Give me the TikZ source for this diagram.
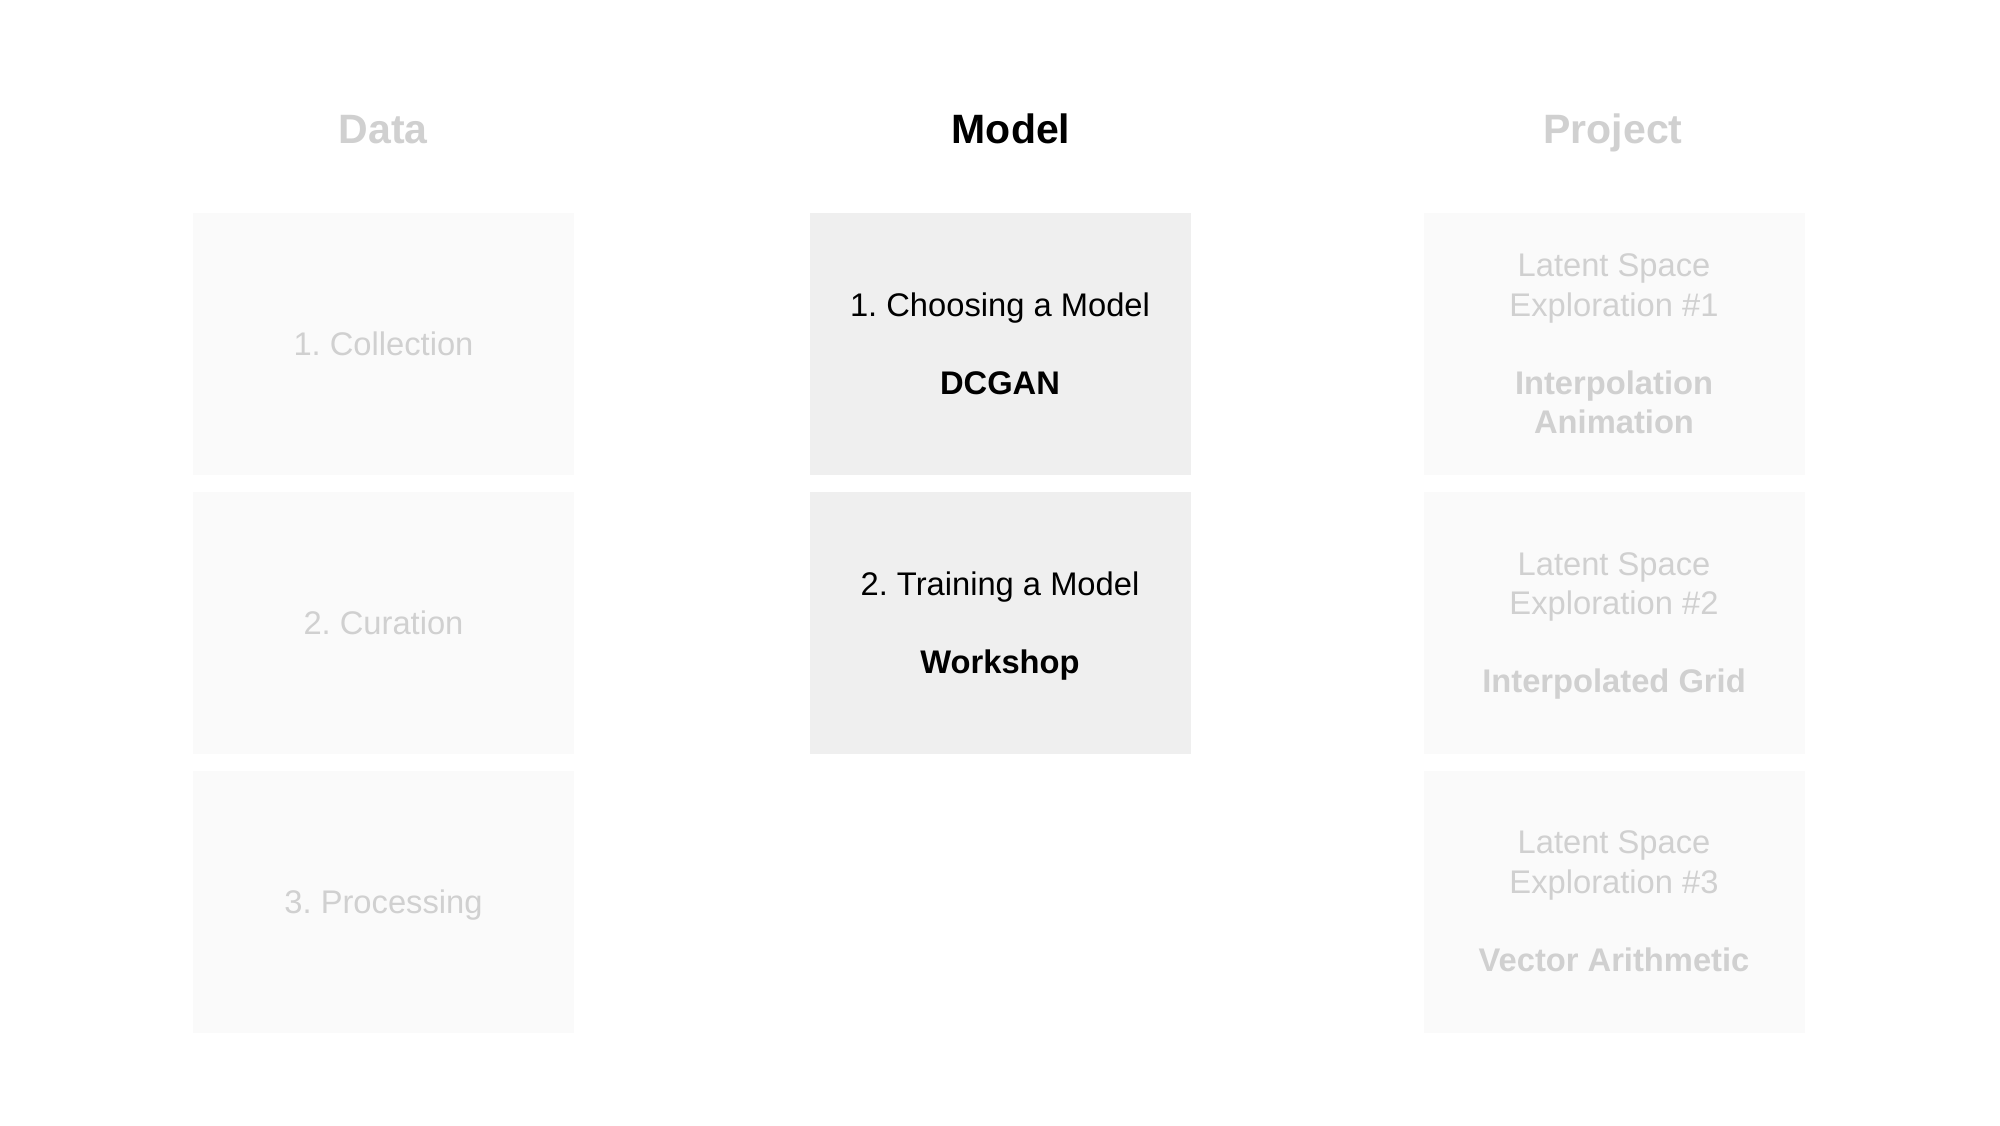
\documentclass[tikz,border=0pt]{standalone}
\usepackage{fontspec}
\setmainfont{Liberation Sans}
\frenchspacing
\definecolor{boxlight}{HTML}{FAFAFA}
\definecolor{boxactive}{HTML}{EFEFEF}
\definecolor{greytext}{HTML}{D0D0D0}
\newcommand{\nodp}[1]{\raisebox{0pt}[\height][0pt]{#1}}
\tikzset{
  cell/.style={rectangle, minimum width=190.5pt, minimum height=131pt, inner sep=0pt,
    align=center, font=\fontsize{16.35}{19.6}\selectfont\frenchspacing},
  dimcell/.style={cell, fill=boxlight, text=greytext},
  activecell/.style={cell, fill=boxactive, text=black},
  header/.style={anchor=base, font=\fontsize{20.5}{24}\selectfont\bfseries},
}
\begin{document}
\begin{tikzpicture}[x=0.5pt,y=-0.5pt]
\useasboundingbox[fill=white] (0,0) rectangle (2000,1125);

% headers
\node[header, text=greytext] (hdata) at (383.3,143.3) {Data};
\node[header, text=black] (hmodel) at (1011,143.3) {Model};
\node[header, text=greytext] (hproject) at (1613,143.3) {Project};

% Data column
\node[dimcell] (d1) at (383.5,344) {1. Collection};
\node[dimcell] (d2) at (383.5,622.5) {2. Curation};
\node[dimcell] (d3) at (383.5,901.5) {\nodp{3. Processing}};

% Model column
\node[activecell] (m1) at (1000,344) {1. Choosing a Model\\[19.6pt]\textbf{DCGAN}};
\node[activecell] (m2) at (1000,622.5) {2. Training a Model\\[19.6pt]\nodp{\textbf{Workshop}}};

% Project column
\node[dimcell] (p1) at (1614,344) {Latent Space\\Exploration \#1\\[19.6pt]\textbf{Interpolation}\\\textbf{Animation}};
\node[dimcell] (p2) at (1614,622.5) {Latent Space\\Exploration \#2\\[19.6pt]\nodp{\textbf{Interpolated Grid}}};
\node[dimcell] (p3) at (1614,901.5) {Latent Space\\Exploration \#3\\[19.6pt]\textbf{Vector Arithmetic}};
\end{tikzpicture}
\end{document}
